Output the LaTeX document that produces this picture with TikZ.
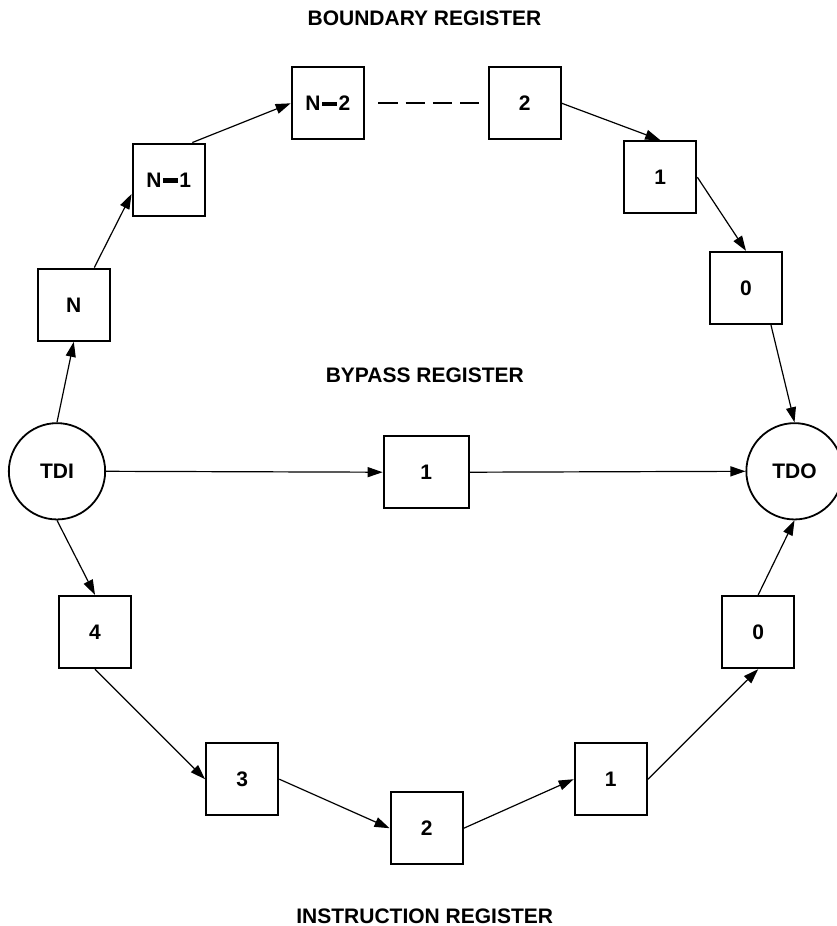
\documentclass[tikz,border=0pt]{standalone}
\usepackage{fontspec}
\setmainfont{Liberation Sans}
\usetikzlibrary{arrows.meta,calc}
\newcommand{\regbar}{\kern1.5pt\rule[4.6pt]{15pt}{4.2pt}\kern1.5pt}
\begin{document}
\begin{tikzpicture}[x=1pt,y=-1pt,
  lbl/.style={font=\fontsize{21}{21}\bfseries\selectfont,text height=15pt,text depth=0pt},
  reg/.style={lbl,draw,line width=2pt,minimum size=72.3pt,inner sep=0pt},
  widereg/.style={reg,minimum width=85.3pt,minimum height=72.3pt},
  pin/.style={lbl,draw,circle,line width=1.8pt,minimum size=96.3pt,inner sep=0pt},
  title/.style={anchor=base,font=\fontsize{21}{21}\bfseries\selectfont},
  link/.style={line width=1.2pt,-{Triangle[length=15pt,width=10pt]}},
  gap/.style={line width=2.2pt,dash pattern=on 19.3pt off 8pt}]
\useasboundingbox (0,0) rectangle (836,926);

% titles
\node[title] (tb) at (424.5,25.7) {BOUNDARY REGISTER};
\node[title] (tp) at (424.8,382.3) {BYPASS REGISTER};
\node[title] (ti) at (424.7,923.3) {INSTRUCTION REGISTER};

% pins
\node[pin] (TDI) at (57,471.3) {TDI};
\node[pin] (TDO) at (794.5,471.3) {TDO};

% boundary register
\node[reg] (N)   at (73.8,304.7)  {N};
\node[reg] (Nm1) at (168.7,179.7) {N\regbar 1};
\node[reg] (Nm2) at (327.8,103.3) {N\regbar 2};
\node[reg] (B2)  at (524.7,103.3) {2};
\node[reg] (B1)  at (660.2,177.2) {1};
\node[reg] (B0)  at (746,288)     {0};

% bypass register
\node[widereg] (BP) at (426.3,472.2) {1};

% instruction register
\node[reg] (I4) at (95,632)      {4};
\node[reg] (I3) at (242.2,779.2) {3};
\node[reg] (I2) at (426.7,828.2) {2};
\node[reg] (I1) at (610.8,779.2) {1};
\node[reg] (I0) at (758.2,632)   {0};

% boundary chain
\draw[link] (TDI.north) -- (N.south);
\draw[link] ($(N.north)+(20.5,0)$) -- ($(Nm1.west)+(0,14.3)$);
\draw[link] ($(Nm1.north)+(23.6,0)$) -- (Nm2.west);
\draw[gap] ($(Nm2.east)+(13.3,0)$) -- ($(B2.west)+(-8,0)$);
\draw[link] (B2.east) -- (B1.north);
\draw[link] (B1.east) -- (B0.north);
\draw[link] ($(B0.south)+(25,0)$) -- (TDO.north);

% bypass
\draw[link] (TDI.east) -- (BP.west);
\draw[link] (BP.east) -- (TDO.west);

% instruction chain
\draw[link] (TDI.south) -- (I4.north);
\draw[link] (I4.south) -- (I3.west);
\draw[link] (I3.east) -- (I2.west);
\draw[link] (I2.east) -- (I1.west);
\draw[link] (I1.east) -- (I0.south);
\draw[link] (I0.north) -- (TDO.south);
\end{tikzpicture}
\end{document}
